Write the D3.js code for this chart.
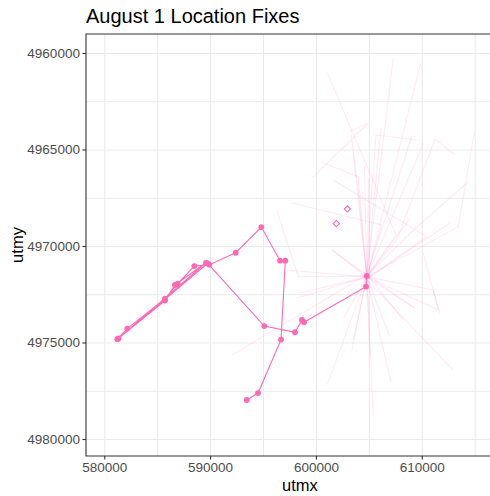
<!DOCTYPE html>
<html>
<head>
<meta charset="utf-8">
<script src="https://cdn.jsdelivr.net/npm/d3@7"></script>
<style>
  html, body { margin: 0; padding: 0; background: #fff; overflow: hidden; }
  svg { display: block; }
  svg text { font-family: "Liberation Sans", Arial, sans-serif; }
  .tick text { fill: #4d4d4d; font-size: 13.5px; }
  .tick line { stroke: #333; }
  .grid .tick line { stroke: #ebebeb; }
  .grid path { display: none; }
</style>
</head>
<body>
<div id="chart"></div>
<script>
//----------------------------
// Data (UTM metres)
//----------------------------
// focal bird, August 1 fixes in time order
var fixUtmx = [593460, 594530, 596700, 597110, 596610, 594840, 592420, 589920,
               588510, 586940, 585740, 582170, 581230, 585740, 586680, 589610,
               581340, 589770, 595120, 598020, 598680, 598870, 604730, 604800];
var fixUtmy = [4977980, 4977620, 4974850, 4970760, 4970760, 4969020, 4970350, 4970970,
               4971040, 4971950, 4972730, 4974280, 4974830, 4972830, 4972020, 4970870,
               4974790, 4970900, 4974150, 4974470, 4973830, 4973950, 4972110, 4971550];

// other fixes flagged separately (open diamonds)
var flagUtmx = [602970, 601930];
var flagUtmy = [4968080, 4968840];

// all other trips from the colony (faint background)
var otherTrips = [
  [[604800, 4971600], [607570, 4969430], [601080, 4961020]],
  [[604780, 4971650], [607310, 4960280]],
  [[604830, 4971560], [609900, 4960530]],
  [[604800, 4971600], [604000, 4967100], [603290, 4964030], [604950, 4963640], [599700, 4966440]],
  [[604760, 4971720], [605270, 4967100], [605680, 4964250], [609580, 4964510]],
  [[604800, 4971600], [606150, 4963900]],
  [[604850, 4971480], [609050, 4964340]],
  [[604800, 4971600], [607630, 4969690], [611250, 4964470], [613140, 4965290]],
  [[604780, 4971650], [610150, 4964680]],
  [[604800, 4971600], [613460, 4969000], [614970, 4964080]],
  [[604830, 4971560], [608890, 4969340], [614400, 4966670]],
  [[604800, 4971600], [604000, 4966410], [600550, 4965660]],
  [[604760, 4971720], [610470, 4969520], [601640, 4966580]],
  [[604800, 4971600], [606220, 4968910], [597740, 4967770]],
  [[604780, 4971650], [601640, 4970210]],
  [[604800, 4971600], [597240, 4971240]],
  [[604830, 4971560], [598340, 4971590], [596290, 4968130]],
  [[604800, 4971600], [598180, 4972710]],
  [[604850, 4971480], [592070, 4975650]],
  [[604800, 4971600], [598500, 4972440]],
  [[604800, 4971600], [601080, 4977170]],
  [[604780, 4971650], [603380, 4975480]],
  [[604800, 4971600], [605110, 4975740]],
  [[604830, 4971560], [605420, 4978810]],
  [[604800, 4971600], [607100, 4977080]],
  [[604760, 4971720], [612930, 4976420]],
  [[604800, 4971600], [611090, 4972280], [611730, 4973520]],
  [[604800, 4971600], [609360, 4973230]],
  [[604850, 4971480], [608260, 4973830]],
  [[604800, 4971600], [607000, 4974700]],
  [[604780, 4971650], [602590, 4973750]],
  [[604800, 4971600], [603530, 4974870]],
  [[604830, 4971560], [601490, 4970210], [609360, 4973230]],
  [[604800, 4971600], [611570, 4973320], [610150, 4970380]],
  [[604760, 4971720], [612670, 4968810]],
  [[604800, 4971600], [608890, 4968570]],
  [[604800, 4971600], [603530, 4965200]],
  [[604780, 4971650], [604600, 4965800]],
  [[604830, 4971560], [605000, 4966500]]
];

var xTicks = [580000, 590000, 600000, 610000];
var yTicks = [4960000, 4965000, 4970000, 4975000, 4980000];
var xMinor = [585000, 595000, 605000, 615000];
var yMinor = [4962500, 4967500, 4972500, 4977500];

//----------------------------
// Layout
//----------------------------
var W = 490, H = 496;
var margin = {top: 34, left: 86};
var pWidth = 414, pHeight = 422;   // panel runs past the right edge
var pink = "#ff69b4";

var svg = d3.select("#chart").append("svg")
    .attr("width", W)
    .attr("height", H);

var g = svg.append("g")
    .attr("transform", "translate(" + margin.left + "," + margin.top + ")");

var x = d3.scaleLinear().domain([578270, 617397]).range([0, pWidth]);
// utmy runs downward (reversed axis)
var y = d3.scaleLinear().domain([4959016, 4980881]).range([0, pHeight]);

// grid: minor then major
g.append("g").attr("class", "grid")
    .call(d3.axisBottom(x).tickValues(xMinor).tickSize(pHeight).tickFormat(""))
    .selectAll("line").attr("stroke-width", 0.6);
g.append("g").attr("class", "grid")
    .call(d3.axisRight(y).tickValues(yMinor).tickSize(pWidth).tickFormat(""))
    .selectAll("line").attr("stroke-width", 0.6);
g.append("g").attr("class", "grid")
    .call(d3.axisBottom(x).tickValues(xTicks).tickSize(pHeight).tickFormat(""))
    .selectAll("line").attr("stroke-width", 1.1);
g.append("g").attr("class", "grid")
    .call(d3.axisRight(y).tickValues(yTicks).tickSize(pWidth).tickFormat(""))
    .selectAll("line").attr("stroke-width", 1.1);

var line = d3.line().x(d => x(d[0])).y(d => y(d[1]));

// faint background trips
g.append("g").selectAll("path")
    .data(otherTrips)
    .enter().append("path")
    .attr("d", line)
    .attr("fill", "none")
    .attr("stroke", pink)
    .attr("stroke-opacity", 0.14)
    .attr("stroke-width", 1.1);

// focal track
var fixes = fixUtmx.map((v, i) => [v, fixUtmy[i]]);
g.append("path")
    .datum(fixes)
    .attr("d", line)
    .attr("fill", "none")
    .attr("stroke", pink)
    .attr("stroke-width", 1.1);

g.selectAll(".fix")
    .data(fixes)
    .enter().append("circle")
    .attr("class", "fix")
    .attr("cx", d => x(d[0]))
    .attr("cy", d => y(d[1]))
    .attr("r", 2.9)
    .attr("fill", pink);

// open diamonds
g.selectAll(".flag")
    .data(flagUtmx.map((v, i) => [v, flagUtmy[i]]))
    .enter().append("path")
    .attr("class", "flag")
    .attr("d", d3.symbol(d3.symbolSquare, 19))
    .attr("transform", d => "translate(" + x(d[0]) + "," + y(d[1]) + ") rotate(45)")
    .attr("fill", "none")
    .attr("stroke", pink)
    .attr("stroke-width", 1.1);

// panel border: left, top, bottom only (right side is off the picture)
g.append("path")
    .attr("d", "M" + W + ",0H0V" + pHeight + "H" + W)
    .attr("fill", "none")
    .attr("stroke", "#333")
    .attr("stroke-width", 1.1);

//----------------------------
// Axes
//----------------------------
var xAxis = g.append("g")
    .attr("transform", "translate(0," + pHeight + ")")
    .call(d3.axisBottom(x).tickValues(xTicks).tickFormat(d3.format("d")).tickSize(3.6).tickPadding(2.5));
var yAxis = g.append("g")
    .call(d3.axisLeft(y).tickValues(yTicks).tickFormat(d3.format("d")).tickSize(3.6).tickPadding(2.5));
xAxis.select(".domain").remove();
yAxis.select(".domain").remove();
svg.selectAll(".tick line").attr("stroke-width", 1.1);

// axis titles
svg.append("text")
    .attr("x", 300)
    .attr("y", 491)
    .attr("text-anchor", "middle")
    .attr("font-size", "16.5px")
    .text("utmx");

svg.append("text")
    .attr("transform", "translate(23," + (margin.top + pHeight / 2) + ") rotate(-90)")
    .attr("text-anchor", "middle")
    .attr("font-size", "16.5px")
    .text("utmy");

// title
svg.append("text")
    .attr("x", margin.left)
    .attr("y", 23)
    .attr("font-size", "20px")
    .text("August 1 Location Fixes");
</script>
</body>
</html>
